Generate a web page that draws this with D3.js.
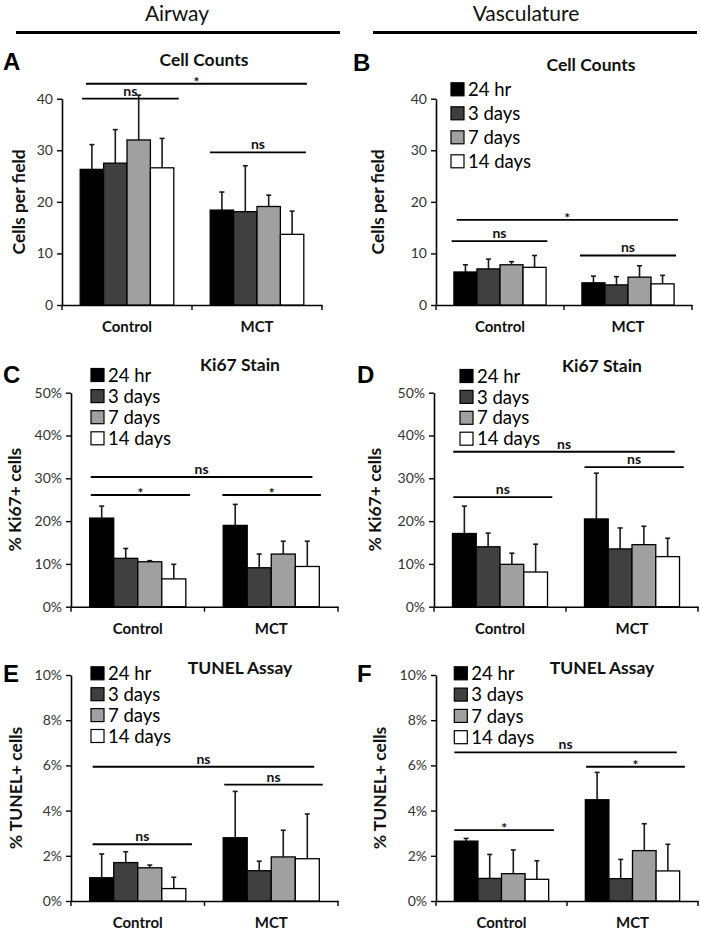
<!DOCTYPE html>
<html>
<head>
<meta charset="utf-8">
<script src="https://cdn.jsdelivr.net/npm/d3@7"></script>
<style>
  html, body { margin: 0; padding: 0; background: #fff; }
  svg { display: block; font-family: Lato, "Open Sans", sans-serif; }
</style>
</head>
<body>
<svg id="chart" width="701" height="930"></svg>
<script>
// ---------------- DATA ----------------
const groups = ["Control", "MCT"];
const series = ["24 hr", "3 days", "7 days", "14 days"];

// A: Airway cell counts (cells per field)
const aMeans = [[26.3, 27.5, 32.0, 26.6], [18.4, 18.1, 19.1, 13.7]];
const aSD    = [[4.8, 6.5, 8.7, 5.7], [3.5, 8.9, 2.2, 4.5]];
const aTicks = [0, 10, 20, 30, 40];
const aSig   = [{label: "*", level: 42.9, span: "all"}, {label: "ns", level: 40.0, span: "Control"}, {label: "ns", level: 29.6, span: "MCT"}];

// B: Vasculature cell counts
const bMeans = [[6.4, 7.0, 7.8, 7.3], [4.3, 3.9, 5.4, 4.1]];
const bSD    = [[1.4, 1.9, 0.6, 2.3], [1.3, 1.6, 2.2, 1.65]];
const bTicks = [0, 10, 20, 30, 40];
const bSig   = [{label: "*", level: 16.5, span: "all"}, {label: "ns", level: 12.4, span: "Control"}, {label: "ns", level: 9.6, span: "MCT"}];

// C: Airway Ki67 (% cells)
const cMeans = [[20.7, 11.3, 10.5, 6.5], [19.0, 9.1, 12.3, 9.4]];
const cSD    = [[2.8, 2.3, 0.25, 3.4], [4.9, 3.2, 3.0, 5.9]];
const cTicks = [0, 10, 20, 30, 40, 50];
const cSig   = [{label: "ns", level: 30.3, span: "all"}, {label: "*", level: 26.1, span: "Control"}, {label: "*", level: 26.1, span: "MCT"}];

// D: Vasculature Ki67 (% cells)
const dMeans = [[17.1, 14.0, 9.9, 8.1], [20.5, 13.5, 14.5, 11.7]];
const dSD    = [[6.4, 3.2, 2.6, 6.5], [10.7, 4.9, 4.3, 4.3]];
const dTicks = [0, 10, 20, 30, 40, 50];
const dSig   = [{label: "ns", level: 36.2, span: "all"}, {label: "ns", level: 32.6, span: "MCT"}, {label: "ns", level: 25.6, span: "Control"}];

// E: Airway TUNEL (% cells)
const eMeans = [[1.03, 1.70, 1.47, 0.55], [2.80, 1.34, 1.95, 1.87]];
const eSD    = [[1.05, 0.48, 0.12, 0.50], [2.05, 0.42, 1.18, 1.98]];
const eTicks = [0, 2, 4, 6, 8, 10];
const eSig   = [{label: "ns", level: 5.94, span: "all"}, {label: "ns", level: 5.15, span: "MCT"}, {label: "ns", level: 2.51, span: "Control"}];

// F: Vasculature TUNEL (% cells)
const fMeans = [[2.65, 1.00, 1.21, 0.96], [4.48, 0.99, 2.23, 1.33]];
const fSD    = [[0.12, 1.06, 1.05, 0.82], [1.21, 0.85, 1.19, 1.18]];
const fTicks = [0, 2, 4, 6, 8, 10];
const fSig   = [{label: "ns", level: 6.58, span: "all"}, {label: "*", level: 5.94, span: "MCT"}, {label: "*", level: 3.14, span: "Control"}];

// ---------------- STYLE / LAYOUT ----------------
const fills = ["#000000", "#404040", "#a0a0a0", "#ffffff"];
const ink = "#111";

const panels = [
  {letter: "A", title: "Cell Counts", ylab: "Cells per field", means: aMeans, sd: aSD, ticks: aTicks, sig: aSig, pct: false,
   x0: 62, x1: 322, yT: 98.7, yB: 305, letterPos: [3, 70], titlePos: [204, 66], ylabX: 19, legend: null,
   spans: {all: [0.092, 0.942], Control: [0.077, 0.449], MCT: [0.569, 0.938]}},
  {letter: "B", title: "Cell Counts", ylab: "Cells per field", means: bMeans, sd: bSD, ticks: bTicks, sig: bSig, pct: false,
   x0: 436, x1: 692, yT: 98.7, yB: 305, letterPos: [353, 71], titlePos: [591, 71], ylabX: 378, legend: [451, 89.3, 24],
   spans: {all: [0.081, 0.945], Control: [0.061, 0.435], MCT: [0.5625, 0.9375]}},
  {letter: "C", title: "Ki67 Stain", ylab: "% Ki67+ cells", means: cMeans, sd: cSD, ticks: cTicks, sig: cSig, pct: true,
   x0: 71, x1: 338, yT: 392.7, yB: 606.7, letterPos: [3, 383], titlePos: [240, 371], ylabX: 15, legend: [91, 375, 21.1],
   spans: {all: [0.074, 0.904], Control: [0.074, 0.446], MCT: [0.567, 0.936]}},
  {letter: "D", title: "Ki67 Stain", ylab: "% Ki67+ cells", means: dMeans, sd: dSD, ticks: dTicks, sig: dSig, pct: true,
   x0: 434, x1: 698, yT: 392.7, yB: 606.7, letterPos: [357, 383], titlePos: [602, 372], ylabX: 375, legend: [460, 376, 20.9],
   spans: {all: [0.073, 0.912], Control: [0.073, 0.448], MCT: [0.57, 0.946]}},
  {letter: "E", title: "TUNEL Assay", ylab: "% TUNEL+ cells", means: eMeans, sd: eSD, ticks: eTicks, sig: eSig, pct: true,
   x0: 71, x1: 338, yT: 675, yB: 901, letterPos: [3, 682], titlePos: [240, 674], ylabX: 16, legend: [91, 673.3, 20.9],
   spans: {all: [0.081, 0.911], Control: [0.081, 0.453], MCT: [0.574, 0.943]}},
  {letter: "F", title: "TUNEL Assay", ylab: "% TUNEL+ cells", means: fMeans, sd: fSD, ticks: fTicks, sig: fSig, pct: true,
   x0: 436, x1: 698, yT: 675, yB: 901, letterPos: [357, 682], titlePos: [602, 674], ylabX: 380, legend: [454.3, 673.3, 21.3],
   spans: {all: [0.07, 0.919], Control: [0.07, 0.45], MCT: [0.573, 0.95]}}
];

const svg = d3.select("#chart");

// Section headers
const headers = [{text: "Airway", cx: 177, x0: 16, x1: 340}, {text: "Vasculature", cx: 526, x0: 373, x1: 697}];
headers.forEach(h => {
  svg.append("text").attr("x", h.cx).attr("y", 21).attr("text-anchor", "middle")
    .attr("font-size", 21).attr("fill", ink).text(h.text);
  svg.append("line").attr("x1", h.x0).attr("x2", h.x1).attr("y1", 32.5).attr("y2", 32.5)
    .attr("stroke", "#000").attr("stroke-width", 3);
});

panels.forEach(p => {
  const g = svg.append("g");
  const yMax = p.ticks[p.ticks.length - 1];
  const y = d3.scaleLinear().domain([0, yMax]).range([p.yB, p.yT]);
  const xg = d3.scaleBand().domain(groups).range([p.x0, p.x1]).padding(0);
  const xs = d3.scaleBand().domain(series)
    .range([xg.bandwidth() * 0.14, xg.bandwidth() * 0.86]).padding(0);

  // y axis
  const yAxis = d3.axisLeft(y).tickValues(p.ticks).tickSize(5).tickSizeOuter(0)
    .tickFormat(d => p.pct ? d + "%" : d);
  const ya = g.append("g").attr("transform", `translate(${p.x0},0)`).call(yAxis);
  ya.select(".domain").attr("stroke", "#000").attr("stroke-width", 1.6);
  ya.selectAll(".tick line").attr("stroke", "#000").attr("stroke-width", 1.4);
  ya.selectAll(".tick text").attr("font-size", 14).attr("fill", "#333")
    .attr("font-family", "Lato, 'Open Sans', sans-serif").attr("x", -9);

  // x axis (category labels, boundary ticks)
  const xAxis = d3.axisBottom(xg).tickSize(0).tickSizeOuter(0);
  const xa = g.append("g").attr("transform", `translate(0,${p.yB})`).call(xAxis);
  xa.select(".domain").attr("stroke", "#000").attr("stroke-width", 1.6);
  xa.selectAll(".tick text").attr("font-size", 15).attr("font-weight", "bold").attr("fill", ink)
    .attr("font-family", "Lato, 'Open Sans', sans-serif").attr("dy", "0").attr("y", 27);
  const bounds = [p.x0].concat(groups.map(gr => xg(gr) + xg.bandwidth()));
  g.selectAll(".xb").data(bounds).join("line")
    .attr("x1", d => d).attr("x2", d => d).attr("y1", p.yB).attr("y2", p.yB + 5)
    .attr("stroke", "#000").attr("stroke-width", 1.4);

  // bars + error bars
  const rows = [];
  groups.forEach((gr, gi) => series.forEach((s, si) => rows.push({gr, s, si, m: p.means[gi][si], e: p.sd[gi][si]})));
  const cap = 2.5;
  const bw = xs.bandwidth();
  const eg = g.append("g");
  eg.selectAll("line.err").data(rows).join("line")
    .attr("x1", d => xg(d.gr) + xs(d.s) + bw / 2).attr("x2", d => xg(d.gr) + xs(d.s) + bw / 2)
    .attr("y1", d => y(d.m)).attr("y2", d => y(d.m + d.e))
    .attr("stroke", "#1a1a1a").attr("stroke-width", 1.6);
  eg.selectAll("line.cap").data(rows).join("line")
    .attr("x1", d => xg(d.gr) + xs(d.s) + bw / 2 - cap).attr("x2", d => xg(d.gr) + xs(d.s) + bw / 2 + cap)
    .attr("y1", d => y(d.m + d.e)).attr("y2", d => y(d.m + d.e))
    .attr("stroke", "#1a1a1a").attr("stroke-width", 1.6);
  g.selectAll("rect.bar").data(rows).join("rect")
    .attr("x", d => xg(d.gr) + xs(d.s)).attr("width", bw)
    .attr("y", d => y(d.m)).attr("height", d => p.yB - y(d.m))
    .attr("fill", d => fills[d.si]).attr("stroke", "#000").attr("stroke-width", 1.3);

  // significance lines
  const W = p.x1 - p.x0;
  p.sig.forEach(s => {
    const [f0, f1] = p.spans[s.span];
    const lx0 = p.x0 + f0 * W, lx1 = p.x0 + f1 * W, ly = y(s.level);
    g.append("line").attr("x1", lx0).attr("x2", lx1).attr("y1", ly).attr("y2", ly)
      .attr("stroke", "#000").attr("stroke-width", 1.8);
    g.append("text").attr("x", (lx0 + lx1) / 2).attr("y", s.label === "*" ? ly + 3 : ly - 3)
      .attr("text-anchor", "middle").attr("font-size", s.label === "*" ? 14 : 14).attr("font-weight", "bold")
      .attr("fill", ink).text(s.label);
  });

  // title, letter, y label
  g.append("text").attr("x", p.titlePos[0]).attr("y", p.titlePos[1]).attr("text-anchor", "middle")
    .attr("font-size", 17.5).attr("font-weight", "bold").attr("fill", ink).text(p.title);
  g.append("text").attr("x", p.letterPos[0]).attr("y", p.letterPos[1])
    .attr("font-size", 24).attr("font-weight", "900").attr("fill", "#000")
    .attr("font-family", "'Liberation Sans', Arial, sans-serif").text(p.letter);
  const ymid = (p.yT + p.yB) / 2;
  g.append("text").attr("transform", `translate(${p.ylabX},${ymid}) rotate(-90)`)
    .attr("text-anchor", "middle").attr("dy", "0.35em")
    .attr("font-size", 17.5).attr("font-weight", "bold").attr("fill", ink).text(p.ylab);

  // legend
  if (p.legend) {
    const [lx, ly0, step] = p.legend;
    const lg = g.append("g");
    series.forEach((s, i) => {
      const cy = ly0 + i * step;
      lg.append("rect").attr("x", lx).attr("y", cy - 6.5).attr("width", 13).attr("height", 13)
        .attr("fill", fills[i]).attr("stroke", "#000").attr("stroke-width", 1.2);
      lg.append("text").attr("x", lx + 17).attr("y", cy).attr("dy", "0.36em")
        .attr("font-size", 18.5).attr("fill", "#000").text(s);
    });
  }
});
</script>
</body>
</html>
